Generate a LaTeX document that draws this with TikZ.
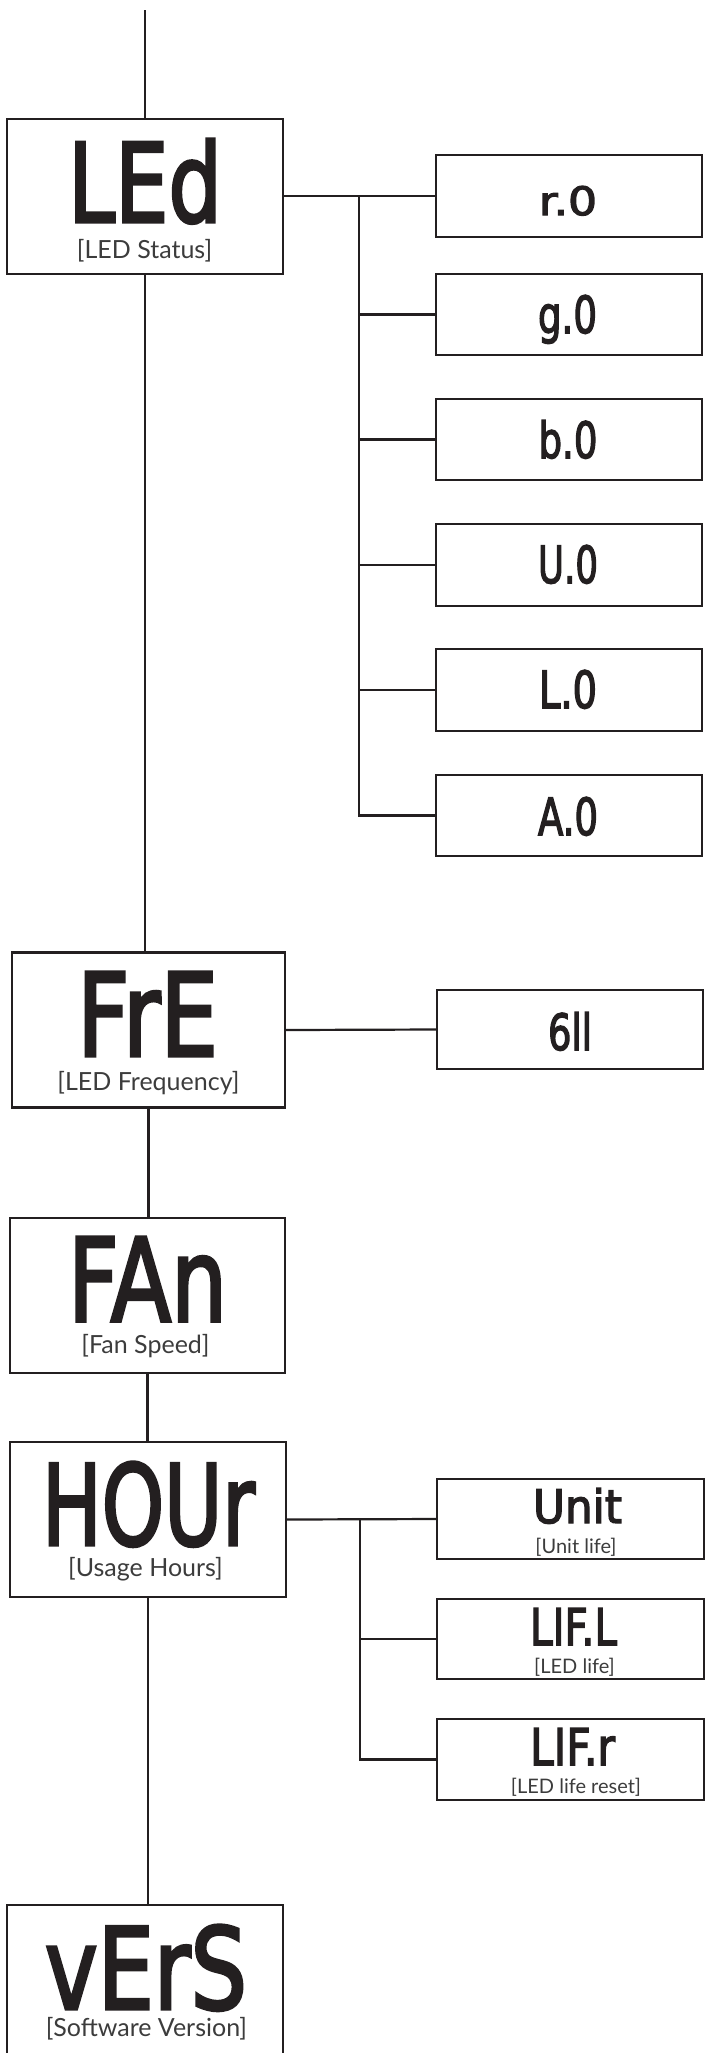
\documentclass[tikz,border=0pt]{standalone}
\usepackage{fontspec}
\usepackage{graphicx}
\setmainfont{Lato}
\newfontfamily\segfont{DejaVu Sans}[BoldFont={DejaVu Sans}, BoldFeatures={FakeBold=3}]
\definecolor{ink}{HTML}{231F20}
\definecolor{subgray}{HTML}{3C3C3C}
\newcommand\segtxt[3]{\resizebox{#1pt}{#2pt}{\segfont\bfseries #3}}
\begin{document}
\begin{tikzpicture}[x=1pt,y=-1pt,
  box/.style={draw=ink, line width=2.2pt, rectangle, inner sep=0pt},
  mainbox/.style={box, minimum width=#1pt, minimum height=155pt},
  childbox/.style={box, minimum width=266pt, minimum height=#1pt},
  link/.style={draw=ink, line width=2.2pt},
  seg/.style={inner sep=0pt, anchor=base, text=ink},
  sub/.style={inner sep=0pt, anchor=base, text=subgray, font=\fontsize{25}{25}\selectfont},
  smallsub/.style={inner sep=0pt, anchor=base, text=subgray, font=\fontsize{20}{20}\selectfont}]
\useasboundingbox (0,0) rectangle (705,2053);
\clip (0,0) rectangle (705,2053);

% main boxes
\node[mainbox=276] (led) at (145,196.5) {};
\node[mainbox=273] (fre) at (148.5,1030) {};
\node[mainbox=275] (fan) at (147.5,1295.5) {};
\node[mainbox=276] (hour) at (148,1519.5) {};
\node[mainbox=276] (vers) at (145,1982.5) {};

% LED children
\node[childbox=82] (r0) at (569,196) {};
\node[childbox=81] (g0) at (569,314.5) {};
\node[childbox=81] (b0) at (569,439.5) {};
\node[childbox=82] (u0) at (569,565) {};
\node[childbox=82] (l0) at (569,690) {};
\node[childbox=81] (a0) at (569,815.5) {};
% FrE child
\node[childbox=79] (f6) at (570,1029.5) {};
% HOUr children
\node[childbox=80, minimum width=267pt] (unit) at (570.5,1519) {};
\node[childbox=80, minimum width=267pt] (lifl) at (570.5,1639) {};
\node[childbox=81, minimum width=267pt] (lifr) at (570.5,1759.5) {};

% main labels
\node[seg] (tled) at (145,222) {\segtxt{154}{83}{LEd}};
\node[sub] (sled) at (144.5,258) {[LED Status]};
\node[seg] (tfre) at (147.5,1056) {\segtxt{141}{84}{FrE}};
\node[sub] (sfre) at (148.5,1090) {[LED Frequency]};
\node[seg] (tfan) at (147.5,1321) {\segtxt{159}{84}{FAn}};
\node[sub] (sfan) at (145.5,1353) {[Fan Speed]};
\node[seg] (thour) at (148.5,1545) {\segtxt{213}{83}{HOUr}};
\node[sub] (shour) at (145.5,1576) {[Usage Hours]};
\node[seg] (tvers) at (146,2009) {\segtxt{202}{84}{vErS}};
\node[sub] (svers) at (146.5,2036) {[Software Version]};

% child labels
\node[seg] (tr0) at (568,215) {\segtxt{58}{29}{r.0}};
\node[seg] (tg0) at (567.5,333) {\segtxt{59}{38}{g.0}};
\node[seg] (tb0) at (568,458) {\segtxt{59}{38}{b.0}};
\node[seg] (tu0) at (568,583) {\segtxt{60}{38}{U.0}};
\node[seg] (tl0) at (568,708) {\segtxt{58}{38}{L.0}};
\node[seg] (ta0) at (568,835) {\segtxt{60}{38}{A.0}};
\node[seg] (tf6) at (570,1050) {\segtxt{44}{38}{6ll}};
\node[seg] (tunit) at (577.5,1523) {\segtxt{89}{35}{Unit}};
\node[smallsub] (sunit) at (576,1553) {[Unit life]};
\node[seg] (tlifl) at (573.5,1645) {\segtxt{87}{37}{LIF.L}};
\node[smallsub] (slifl) at (574.5,1673) {[LED life]};
\node[seg] (tlifr) at (572.5,1765) {\segtxt{85}{37}{LIF.r}};
\node[smallsub] (slifr) at (576,1793) {[LED life reset]};

% spine
\coordinate (top) at (145,10);
\draw[link] (top) -- (led.north);
\draw[link] (led.south) -- (led.south |- fre.north);
\draw[link] (fre.south) -- (fre.south |- fan.north);
\draw[link] (fan.south) -- (fan.south |- hour.north);
\draw[link] (hour.south) -- (hour.south |- vers.north);

% LED branch
\coordinate (tl) at (359,0);
\draw[link] (led.east |- r0.west) -- (r0.west);
\draw[link] (tl |- r0.west) -- (tl |- a0.west) -- (a0.west);
\draw[link] (tl |- g0.west) -- (g0.west);
\draw[link] (tl |- b0.west) -- (b0.west);
\draw[link] (tl |- u0.west) -- (u0.west);
\draw[link] (tl |- l0.west) -- (l0.west);

% FrE branch
\draw[link] (fre.east) -- (f6.west);

% HOUr branch
\coordinate (th) at (360,0);
\draw[link] (hour.east) -- (unit.west);
\draw[link] (th |- unit.west) -- (th |- lifr.west) -- (lifr.west);
\draw[link] (th |- lifl.west) -- (lifl.west);
\end{tikzpicture}
\end{document}
